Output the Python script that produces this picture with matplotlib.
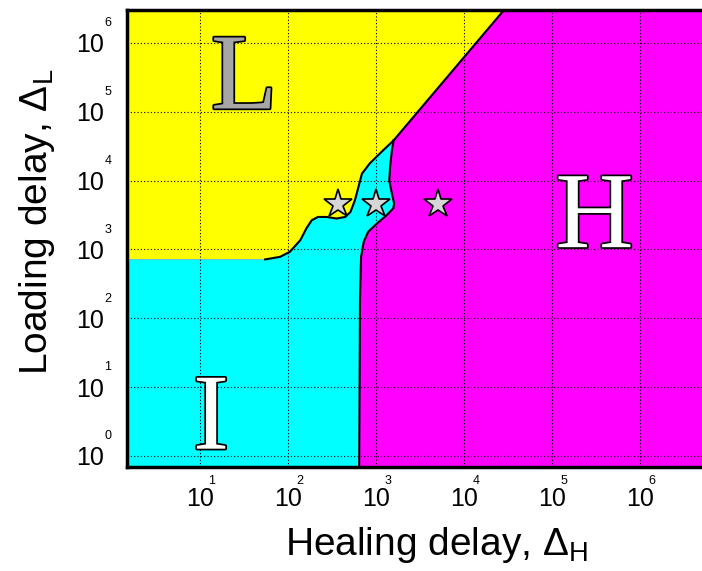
import matplotlib.pyplot as plt
import matplotlib.patheffects as pe
import numpy as np

plt.rcParams['font.family'] = 'Liberation Sans'
plt.rcParams['mathtext.fontset'] = 'custom'
plt.rcParams['mathtext.rm'] = 'Liberation Sans'
plt.rcParams['mathtext.it'] = 'Liberation Sans:italic'

# phase boundaries as log10 values
# L / I boundary (left edge -> triple point)
li_logx = np.array([0.0, 1.74, 1.91, 2.02, 2.14, 2.21, 2.27, 2.34, 2.44, 2.55,
                    2.65, 2.71, 2.76, 2.80, 2.84, 2.93, 3.08, 3.20])
li_logy = np.array([2.855, 2.855, 2.893, 2.965, 3.135, 3.309, 3.425, 3.472, 3.472, 3.449,
                    3.472, 3.545, 3.714, 3.907, 4.101, 4.251, 4.439, 4.584])
# L / H boundary (triple point -> top)
lh_logx = np.array([3.20, 4.80])
lh_logy = np.array([4.584, 7.0])
# I / H boundary (triple point -> bottom)
ih_logx = np.array([3.20, 3.18, 3.16, 3.15, 3.18, 3.205, 3.197, 3.12, 3.01, 2.91,
                    2.86, 2.83, 2.818, 2.807])
ih_logy = np.array([4.584, 4.439, 4.197, 4.004, 3.812, 3.671, 3.599, 3.497, 3.377, 3.255,
                    3.110, 2.893, 2.265, -0.5])

# star markers
star_logx = [2.57, 3.0, 3.71]
star_logy = [3.667, 3.667, 3.667]

x_exps = [1, 2, 3, 4, 5, 6]
y_exps = [0, 1, 2, 3, 4, 5, 6]

fig = plt.figure(figsize=(7.02, 5.71), dpi=100)
ax = fig.add_axes([127/702, 104/571, 601/702, 457/571])
ax.set_xscale('log')
ax.set_yscale('log')
ax.set_xlim(10**0.17, 10**7)
ax.set_ylim(10**-0.16, 10**6.478)
ax.set_facecolor('#ff00ff')

# yellow region L
yx = np.concatenate([[li_logx[0]], li_logx, [lh_logx[-1]]])
yy = np.concatenate([[7.0], li_logy, [lh_logy[-1]]])
ax.fill(10**yx, 10**yy, color='#ffff00', lw=0, zorder=1)

# cyan region I
cx = np.concatenate([li_logx, ih_logx[1:], [li_logx[0]]])
cy = np.concatenate([li_logy, ih_logy[1:], [ih_logy[-1]]])
ax.fill(10**cx, 10**cy, color='#00ffff', lw=0, zorder=1)

# boundary lines
ax.plot(10**li_logx[1:], 10**li_logy[1:], color='black', lw=1.5, zorder=3)
ax.plot(10**lh_logx, 10**lh_logy, color='black', lw=1.5, zorder=3)
ax.plot(10**ih_logx, 10**ih_logy, color='black', lw=1.5, zorder=3)

ax.plot(10**np.array(star_logx), 10**np.array(star_logy), linestyle='none', marker='*',
        markersize=21, markerfacecolor='#d6d6d6', markeredgecolor='black',
        markeredgewidth=1.2, zorder=5)

# region letters
for txt, lx, ly, fc in [('L', 1.50, 5.048, '#a6a6a6'),
                        ('I', 1.125, 0.106, 'white'),
                        ('H', 5.483, 3.033, 'white')]:
    ax.text(10**lx, 10**ly, txt, fontsize=78, family='Liberation Serif', color=fc,
            ha='center', va='baseline', zorder=4,
            path_effects=[pe.Stroke(linewidth=2.5, foreground='black'), pe.Normal()])

ax.grid(True, which='major', color='black', linestyle=(0, (1, 2)), linewidth=0.8)
ax.set_axisbelow(False)
for s in ax.spines.values():
    s.set_linewidth(2.5)
    s.set_zorder(6)

ax.set_xticks([10.0**e for e in x_exps])
ax.set_xticklabels(['10'] * len(x_exps))
ax.set_yticks([10.0**e for e in y_exps])
ax.set_yticklabels(['10'] * len(y_exps))
ax.minorticks_off()
ax.tick_params(axis='x', length=0, pad=14.5, labelsize=18)
ax.tick_params(axis='y', length=0, pad=16.5, labelsize=18)

for e in x_exps:
    ax.annotate(str(e), xy=(10.0**e, 0), xycoords=('data', 'axes fraction'),
                xytext=(8.5, -12.5), textcoords='offset points',
                ha='center', va='baseline', fontsize=9, annotation_clip=False)
for e in y_exps:
    ax.annotate(str(e), xy=(0, 10.0**e), xycoords=('axes fraction', 'data'),
                xytext=(-16.2, 12.0), textcoords='offset points',
                ha='left', va='baseline', fontsize=9, annotation_clip=False)

fig.text(437/702, (571-555)/571, r'Healing delay, $\Delta_{\mathrm{H}}$',
         fontsize=28, ha='center', va='baseline')
fig.text(47/702, (571-222)/571, r'Loading delay, $\Delta_{\mathrm{L}}$',
         fontsize=28, rotation=90, rotation_mode='anchor', ha='center', va='baseline')

fig.savefig('out.png', dpi=100)
